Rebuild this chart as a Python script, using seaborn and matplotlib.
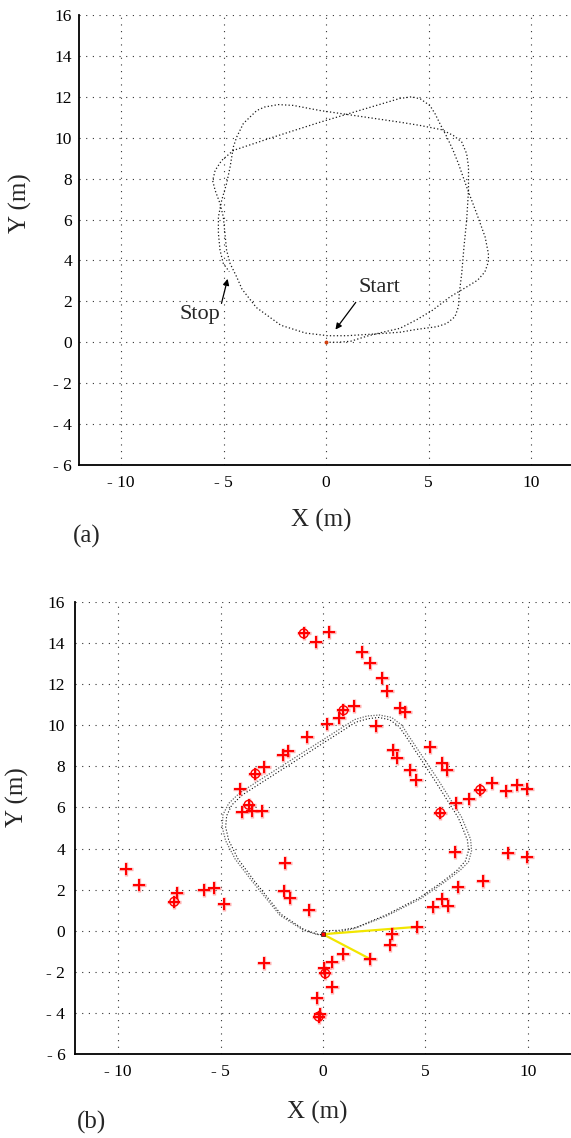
import matplotlib
matplotlib.use("Agg")
import matplotlib.pyplot as plt
import seaborn as sns
import pandas as pd

sns.set_style("white")
plt.rcParams['font.family'] = ['Liberation Serif', 'DejaVu Serif']

# ---------------- data: panel (a) trajectory (two loops) ----------------
traj_a_x = [0.0, 0.6, 1.2, 2.0, 2.8, 3.6, 4.4, 5.2, 6.05, 6.85, 7.4, 7.75, 7.92, 7.92,
            7.76, 7.35, 6.86, 6.46, 6.2, 5.9, 5.56, 5.32, 5.07, 4.6, 4.18, 3.6,
            -0.29, -2.57, -4.52,
            -5.09, -5.41, -5.53, -5.41, -5.17, -5.01, -4.93, -4.85, -4.68, -4.36, -4.1,
            -3.4, -2.2, -1.0, 0.1, 1.0, 2.3, 3.6, 4.42, 5.4, 5.89, 6.29, 6.46, 6.5,
            6.62, 6.73, 6.86, 6.95, 6.95, 6.86, 6.62, 6.21, 5.65, 4.59, 3.61,
            -0.29, -1.6, -2.33, -3.0, -3.38, -4.03, -4.36, -4.52, -4.68, -4.85, -5.09,
            -5.25, -5.25, -5.17, -5.01, -4.72]
traj_a_y = [0.0, 0.0, 0.05, 0.3, 0.5, 0.68, 1.09, 1.57, 2.22, 2.7, 3.04, 3.44, 3.93, 4.34,
            5.15, 6.29, 7.59, 8.73, 9.38, 10.03, 10.68, 11.17, 11.57, 11.9, 12.0, 11.92,
            10.76, 10.03, 9.38,
            8.89, 8.4, 7.9, 7.43, 6.78, 6.13, 5.3, 4.5, 3.85, 3.2, 2.6,
            1.7, 0.83, 0.45, 0.32, 0.32, 0.4, 0.49, 0.63, 0.76, 0.92, 1.25, 1.74, 2.39,
            3.37, 4.67, 5.97, 7.43, 8.57, 9.22, 9.79, 10.11, 10.39, 10.6, 10.76,
            11.33, 11.58, 11.62, 11.5, 11.33, 10.7, 10.03, 9.55, 8.57, 7.76, 6.94,
            6.13, 5.32, 4.5, 3.85, 3.45]

start_text = (2.6, 2.7)
start_tail = (1.45, 1.95)
start_tip = (0.46, 0.62)
stop_text = (-6.15, 1.35)
stop_tail = (-5.1, 1.9)
stop_tip = (-4.8, 3.1)

# ---------------- data: panel (b) trajectory (two passes) ----------------
loop1_x = [0.0, 0.8, 1.6, 3.1, 4.7, 5.85, 6.55, 6.95, 7.1, 7.05, 6.85, 6.6, 5.4, 4.05,
           3.7, 3.25, 2.72, 2.2, 1.6, -3.95, -4.45, -4.7, -4.75, -4.6, -4.15, -3.35,
           -2.05, -0.93, -0.3, 0.0]
loop1_y = [0.0, 0.02, 0.15, 0.78, 1.6, 2.4, 2.95, 3.4, 3.9, 4.4, 4.9, 5.5, 7.4, 9.45,
           9.95, 10.27, 10.38, 10.32, 10.15, 6.6, 6.12, 5.6, 5.05, 4.4, 3.5, 2.42,
           0.8, 0.06, -0.16, -0.2]
loop2_x = [0.0, 0.3, 1.5, 3.1, 4.75, 5.95, 6.7, 7.1, 7.25, 7.2, 7.0, 6.75, 5.55, 4.2,
           3.85, 3.35, 2.75, 2.15, 1.55, -4.05, -4.6, -4.88, -4.92, -4.75, -4.28, -3.45,
           -2.1, -0.95, -0.3, 0.0]
loop2_y = [-0.2, -0.16, 0.1, 0.72, 1.55, 2.38, 2.95, 3.35, 3.9, 4.45, 4.95, 5.55, 7.45, 9.45,
           10.0, 10.38, 10.5, 10.45, 10.28, 6.72, 6.2, 5.65, 5.05, 4.38, 3.48, 2.4,
           0.75, 0.02, -0.18, -0.2]

# landmarks (red crosses)
lm_x = [-0.94, -0.35, 0.27, 1.92, 2.31, 2.89, 3.14, 3.74, 3.98, 2.6, 1.49, 1.0, 0.76, 0.19,
        -0.78, -1.73, -1.95, -2.86, -3.3, -4.07, -3.63, -3.95, -3.46, -2.97,
        3.4, 3.6, 4.23, 4.54, 5.23, 5.8, 6.05, 5.72, 6.5, 7.11, 7.67, 8.24, 8.93, 9.46, 9.94,
        6.46, 9.02, 9.96,
        -9.59, -8.97, -7.13, -7.26, -5.81, -5.31, -4.85, -1.84, -1.92, -1.62, -0.7,
        5.36, 5.8, 6.09, 6.58, 7.82,
        4.59, 3.37, 3.28, 2.31, 0.98, 0.44, 0.03, 0.11, 0.44, -0.3, -0.16, -0.21, -2.9]
lm_y = [14.47, 14.07, 14.52, 13.58, 13.01, 12.28, 11.68, 10.86, 10.65, 9.95, 10.93, 10.73,
        10.33, 10.08, 9.43, 8.77, 8.57, 7.99, 7.64, 6.91, 6.13, 5.77, 5.85, 5.85,
        8.81, 8.42, 7.81, 7.32, 8.94, 8.16, 7.83, 5.74, 6.21, 6.42, 6.86, 7.2, 6.81, 7.09, 6.89,
        3.82, 3.76, 3.6,
        3.0, 2.22, 1.86, 1.41, 1.98, 2.06, 1.3, 3.28, 1.95, 1.59, 1.02,
        1.14, 1.54, 1.22, 2.11, 2.41,
        0.19, -0.16, -0.68, -1.38, -1.14, -1.51, -1.82, -2.08, -2.76, -3.28, -4.07, -4.18, -1.59]
# landmarks drawn with a circle
circ_x = [-0.94, 1.0, -3.3, -3.63, 7.67, 5.72, -7.26, 0.11, -0.21]
circ_y = [14.47, 10.73, 7.64, 6.13, 6.86, 5.74, 1.41, -2.08, -4.18]

# yellow observation rays from the robot position
robot = (0.0, -0.17)
ray_end_x = [4.59, 2.31]
ray_end_y = [0.19, -1.38]

x_ticks = [-10, -5, 0, 5, 10]
x_labels = ["- 10", "- 5", "0", "5", "10"]
y_ticks = [-6, -4, -2, 0, 2, 4, 6, 8, 10, 12, 14, 16]
y_labels = ["- 6", "- 4", "- 2", "0", "2", "4", "6", "8", "10", "12", "14", "16"]

# ---------------- figure ----------------
W, H = 571, 1138
fig = plt.figure(figsize=(W / 100, H / 100), dpi=100)


def px_axes(l, r, t, b):
    return fig.add_axes([l / W, 1 - b / H, (r - l) / W, (b - t) / H])


ax_a = px_axes(79, 571, 15, 465)
ax_b = px_axes(75, 571, 602, 1054)


def style_axes(ax, xlim, ylim, ypad):
    ax.set_xlim(*xlim)
    ax.set_ylim(*ylim)
    ax.set_xticks(x_ticks)
    ax.set_xticklabels(x_labels)
    ax.set_yticks(y_ticks)
    ax.set_yticklabels(y_labels)
    ax.tick_params(axis='both', length=0, labelsize=12.5, colors='black')
    ax.tick_params(axis='x', pad=7)
    ax.tick_params(axis='y', pad=ypad)
    ax.grid(True, linestyle=(0, (1, 5)), color='0.2', linewidth=0.8)
    for s in ['top', 'right']:
        ax.spines[s].set_visible(False)
    for s in ['left', 'bottom']:
        ax.spines[s].set_color('black')
        ax.spines[s].set_linewidth(1.3)
    ax.set_xlabel("")
    ax.set_ylabel("")


# panel (a)
df_a = pd.DataFrame({"x": traj_a_x, "y": traj_a_y})
sns.lineplot(data=df_a, x="x", y="y", sort=False, estimator=None, ax=ax_a,
             color='0.1', linewidth=0.9, linestyle=(0, (1, 1.8)))
ax_a.plot([0], [0], marker='o', markersize=1.8, color='#d04010', linestyle='none')
ax_a.text(*start_text, "Start", fontsize=16, ha='center', va='center')
ax_a.text(*stop_text, "Stop", fontsize=16, ha='center', va='center')
for tail, tip in [(start_tail, start_tip), (stop_tail, stop_tip)]:
    ax_a.annotate("", xy=tip, xytext=tail,
                  arrowprops=dict(arrowstyle='-|>', color='k', lw=0.9,
                                  mutation_scale=9, shrinkA=0, shrinkB=0))
style_axes(ax_a, (-12.05, 11.95), (-6, 16), 5)

# panel (b)
df_b1 = pd.DataFrame({"x": loop1_x, "y": loop1_y})
df_b2 = pd.DataFrame({"x": loop2_x, "y": loop2_y})
sns.lineplot(data=df_b2, x="x", y="y", sort=False, estimator=None, ax=ax_b,
             color='0.4', linewidth=0.9, linestyle=(0, (1, 1.2)))
sns.lineplot(data=df_b1, x="x", y="y", sort=False, estimator=None, ax=ax_b,
             color='0.05', linewidth=0.8, linestyle=(0, (1, 1.8)))
for ex, ey in zip(ray_end_x, ray_end_y):
    ax_b.plot([robot[0], ex], [robot[1], ey], color='#f2e600', linewidth=1.6, zorder=3)
sns.scatterplot(x=lm_x, y=lm_y, marker='+', s=115, color='#ff2020', alpha=0.35,
                linewidth=2.4, ax=ax_b, zorder=4)
sns.scatterplot(x=lm_x, y=lm_y, marker='+', s=80, color='#ff0000',
                linewidth=1.5, ax=ax_b, zorder=5)
sns.scatterplot(x=circ_x, y=circ_y, marker='o', s=40, facecolor='none',
                edgecolor='#ff0000', linewidth=1.0, ax=ax_b, zorder=5)
ax_b.plot([robot[0]], [robot[1]], marker='s', markersize=3, color='#ff0000',
          markeredgecolor='k', markeredgewidth=0.4, linestyle='none', zorder=6)
style_axes(ax_b, (-12.1, 12.1), (-6, 16), 7)

# labels
fig.text(321 / W, 1 - 520 / H, "X (m)", fontsize=18, ha='center', va='center')
fig.text(20 / W, 1 - 203 / H, "Y (m)", fontsize=18, ha='center', va='center', rotation=90)
fig.text(87 / W, 1 - 536 / H, "(a)", fontsize=18, ha='center', va='center')
fig.text(317 / W, 1 - 1112 / H, "X (m)", fontsize=18, ha='center', va='center')
fig.text(17 / W, 1 - 797 / H, "Y (m)", fontsize=18, ha='center', va='center', rotation=90)
fig.text(92 / W, 1 - 1122 / H, "(b)", fontsize=18, ha='center', va='center')

fig.savefig("out.png", dpi=100)
